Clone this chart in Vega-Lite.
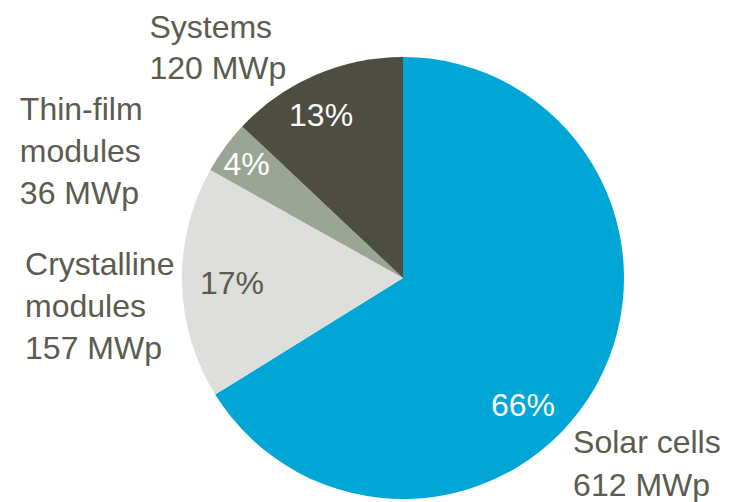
{
  "$schema": "https://vega.github.io/schema/vega-lite/v6.json",
  "width": 654,
  "height": 448,
  "autosize": {"type": "none"},
  "padding": {"left": 76, "top": 54, "right": 0, "bottom": 0},
  "background": "white",
  "config": {
    "view": {"stroke": null},
    "text": {"font": "Liberation Sans Narrow, Arial Narrow, Liberation Sans, Arial, sans-serif", "fontSize": 32}
  },
  "data": {
    "values": [
      {"idx": 1, "segment": "Solar cells", "mwp": 612, "pct": "66%", "label": "Solar cells\n612 MWp"},
      {"idx": 2, "segment": "Crystalline modules", "mwp": 157, "pct": "17%", "label": "Crystalline\nmodules\n157 MWp"},
      {"idx": 3, "segment": "Thin-film modules", "mwp": 36, "pct": "4%", "label": "Thin-film\nmodules\n36 MWp"},
      {"idx": 4, "segment": "Systems", "mwp": 120, "pct": "13%", "label": "Systems\n120 MWp"}
    ]
  },
  "encoding": {
    "theta": {"field": "mwp", "type": "quantitative", "stack": true},
    "order": {"field": "idx", "type": "quantitative", "sort": "ascending"},
    "detail": {"field": "segment", "type": "nominal"}
  },
  "layer": [
    {
      "mark": {"type": "arc", "outerRadius": 221},
      "encoding": {
        "color": {
          "field": "segment",
          "type": "nominal",
          "scale": {
            "domain": ["Solar cells", "Crystalline modules", "Thin-film modules", "Systems"],
            "range": ["#00A6D6", "#DEDEDC", "#9BA595", "#4E4D41"]
          },
          "legend": null
        }
      }
    },
    {
      "mark": {"type": "text", "radius": 175, "dx": -33, "dy": 43, "color": "white", "align": "center", "baseline": "middle"},
      "encoding": {"text": {"condition": {"test": "datum.segment === 'Solar cells'", "field": "pct"}, "value": ""}}
    },
    {
      "mark": {"type": "text", "radius": 171, "dy": 2, "color": "#5B5B4F", "align": "center", "baseline": "middle"},
      "encoding": {"text": {"condition": {"test": "datum.segment === 'Crystalline modules'", "field": "pct"}, "value": ""}}
    },
    {
      "mark": {"type": "text", "radius": 194, "dy": 2, "color": "white", "align": "center", "baseline": "middle"},
      "encoding": {"text": {"condition": {"test": "datum.segment === 'Thin-film modules'", "field": "pct"}, "value": ""}}
    },
    {
      "mark": {"type": "text", "radius": 184, "dx": -9, "dy": 7, "color": "white", "align": "center", "baseline": "middle"},
      "encoding": {"text": {"condition": {"test": "datum.segment === 'Systems'", "field": "pct"}, "value": ""}}
    },
    {
      "mark": {"type": "text", "radius": 221, "dx": -23, "dy": 68, "color": "#5B5B4F", "align": "left", "baseline": "alphabetic", "lineBreak": "\n", "lineHeight": 43},
      "encoding": {"text": {"condition": {"test": "datum.segment === 'Solar cells'", "field": "label"}, "value": ""}}
    },
    {
      "mark": {"type": "text", "radius": 221, "dx": -157, "dy": -8, "color": "#5B5B4F", "align": "left", "baseline": "alphabetic", "lineBreak": "\n", "lineHeight": 42},
      "encoding": {"text": {"condition": {"test": "datum.segment === 'Crystalline modules'", "field": "label"}, "value": ""}}
    },
    {
      "mark": {"type": "text", "radius": 221, "dx": -205, "dy": -27, "color": "#5B5B4F", "align": "left", "baseline": "alphabetic", "lineBreak": "\n", "lineHeight": 42},
      "encoding": {"text": {"condition": {"test": "datum.segment === 'Thin-film modules'", "field": "label"}, "value": ""}}
    },
    {
      "mark": {"type": "text", "radius": 221, "dx": -166, "dy": -37, "color": "#5B5B4F", "align": "left", "baseline": "alphabetic", "lineBreak": "\n", "lineHeight": 41},
      "encoding": {"text": {"condition": {"test": "datum.segment === 'Systems'", "field": "label"}, "value": ""}}
    }
  ]
}
